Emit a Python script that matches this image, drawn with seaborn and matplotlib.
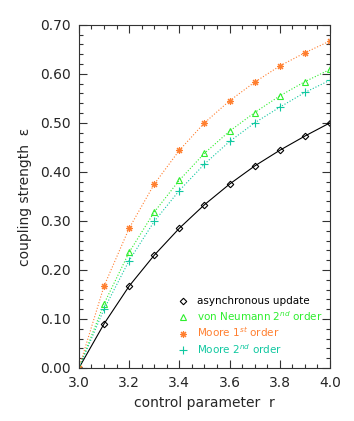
import numpy as np
import pandas as pd
import matplotlib
matplotlib.use('Agg')
import matplotlib.pyplot as plt
import seaborn as sns
from matplotlib.ticker import MultipleLocator

# control parameter r
r_values = [3.0, 3.1, 3.2, 3.3, 3.4, 3.5, 3.6, 3.7, 3.8, 3.9, 4.0]

# coupling strength
eps_async = [0.0, 0.090, 0.167, 0.230, 0.285, 0.333, 0.375, 0.412, 0.444, 0.473, 0.500]
eps_vn2 = [0.0, 0.131, 0.236, 0.318, 0.383, 0.438, 0.483, 0.521, 0.555, 0.584, 0.609]
eps_moore1 = [0.0, 0.167, 0.285, 0.375, 0.444, 0.500, 0.545, 0.583, 0.616, 0.643, 0.667]
eps_moore2 = [0.0, 0.120, 0.219, 0.299, 0.362, 0.416, 0.462, 0.500, 0.532, 0.562, 0.587]

labels = ['asynchronous update', 'von Neumann 2$^{nd}$ order',
          'Moore 1$^{st}$ order', 'Moore 2$^{nd}$ order']
colors = ['black', '#2EEE2E', '#FF7F2F', '#10C8A0']
markers = ['D', '^', (8, 2, 0), '+']
msizes = [3.3, 5, 5, 5.5]
styles = ['-', ':', ':', ':']

sns.set_style('ticks')
plt.rcParams['font.family'] = ['DejaVu Sans']

fig = plt.figure(figsize=(3.54, 4.21), dpi=100)
ax = fig.add_axes([0.223, 0.126, 0.709, 0.815])

series = [eps_async, eps_vn2, eps_moore1, eps_moore2]
for vals, lab, c, m, ms, ls in zip(series, labels, colors, markers, msizes, styles):
    df = pd.DataFrame({'r': r_values, 'eps': vals})
    sns.lineplot(data=df, x='r', y='eps', ax=ax, color=c, linestyle=ls, linewidth=0.8,
                 marker=m, markersize=ms, markerfacecolor='none', markeredgecolor=c,
                 markeredgewidth=0.8, label=lab)

ax.set_xlim(3.0, 4.0)
ax.set_ylim(0.0, 0.70)
ax.xaxis.set_major_locator(MultipleLocator(0.2))
ax.xaxis.set_minor_locator(MultipleLocator(0.05))
ax.yaxis.set_major_locator(MultipleLocator(0.1))
ax.yaxis.set_minor_locator(MultipleLocator(0.02))
ax.xaxis.set_major_formatter(matplotlib.ticker.FormatStrFormatter('%.1f'))
ax.yaxis.set_major_formatter(matplotlib.ticker.FormatStrFormatter('%.2f'))
ax.tick_params(which='both', direction='in', top=True, right=True, color='#333333',
               labelsize=10, width=0.8)
ax.tick_params(which='major', length=6, pad=6)
ax.tick_params(which='minor', length=3)
for sp in ax.spines.values():
    sp.set_linewidth(0.8)
    sp.set_color('#333333')

ax.set_xlabel('control parameter  r', fontsize=10, labelpad=4)
ax.set_ylabel('coupling strength  ε', fontsize=10, labelpad=6)

leg = ax.legend(loc='lower left', bbox_to_anchor=(0.39, 0.03), frameon=False,
                fontsize=7.5, handlelength=0.8, handletextpad=0.9, labelspacing=0.25,
                borderaxespad=0, borderpad=0.2)
for txt, c in zip(leg.get_texts(), colors):
    txt.set_color(c)
for h in leg.legend_handles:
    h.set_linestyle('')

fig.savefig('out.png', dpi=100)
